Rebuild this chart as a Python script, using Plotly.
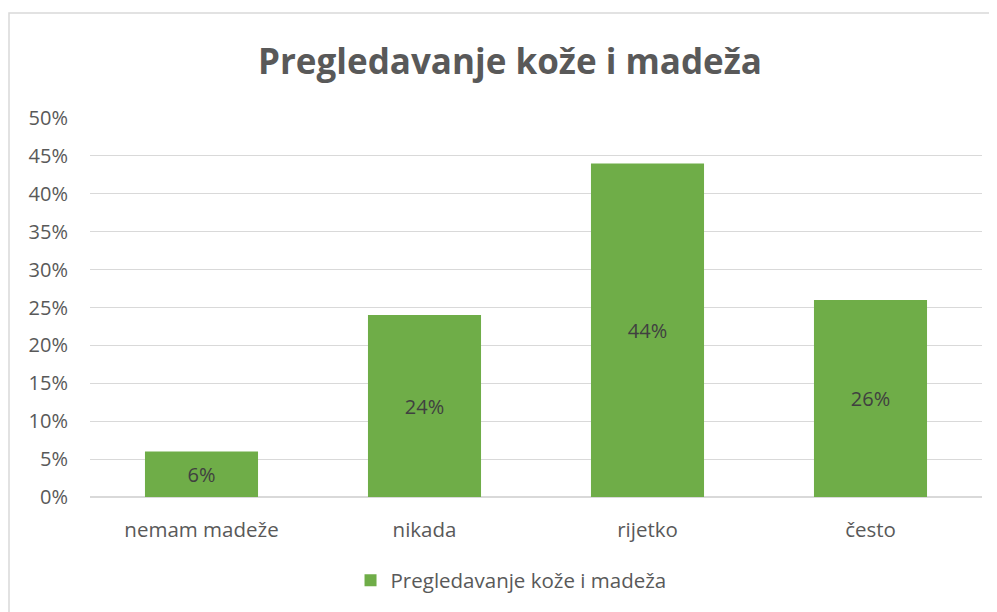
import plotly.graph_objects as go

categories = ["nemam madeže", "nikada", "rijetko", "često"]
values = [0.06, 0.24, 0.44, 0.26]
labels = ["6%", "24%", "44%", "26%"]
series_name = "Pregledavanje kože i madeža"
title_text = "Pregledavanje kože i madeža"
tick_vals = [0, 0.05, 0.10, 0.15, 0.20, 0.25, 0.30, 0.35, 0.40, 0.45, 0.50]
tick_text = ["0%", "5%", "10%", "15%", "20%", "25%", "30%", "35%", "40%", "45%", "50%"]

FONT = "Open Sans"
GRAY = "#595959"

W, H = 989, 604
L, R, T, B = 82, 15, 110, 115
PW = W - L - R
PH = H - T - B

fig = go.Figure()
fig.add_trace(go.Bar(
    x=categories, y=values, name=series_name,
    text=labels, textposition="inside", insidetextanchor="middle",
    textfont=dict(family=FONT, size=20, color="#404040"),
    marker=dict(color="#6fad48", line=dict(width=0)),
    width=0.507,
))

fig.update_layout(
    width=W, height=H,
    margin=dict(l=L, r=R, t=T, b=B),
    paper_bgcolor="white", plot_bgcolor="white",
    title=dict(text="<b>" + title_text + "</b>", x=502/W, xref="container", xanchor="center",
               y=1 - 54/H, yref="container", yanchor="middle",
               font=dict(family=FONT, size=35, color=GRAY)),
    showlegend=True,
    legend=dict(orientation="h", x=0.472, xanchor="center", y=-0.22, yanchor="middle",
                font=dict(family=FONT, size=20.5, color=GRAY)),
    xaxis=dict(showgrid=False, showline=False, ticks="", ticklabelstandoff=18,
               tickfont=dict(family=FONT, size=20.5, color=GRAY)),
    yaxis=dict(range=[0, 0.5], tickvals=tick_vals, ticktext=tick_text,
               showgrid=True, gridcolor="#d9d9d9", gridwidth=1,
               zeroline=True, zerolinecolor="#d9d9d9", zerolinewidth=2,
               showline=False, ticks="", ticklabelstandoff=21,
               tickfont=dict(family=FONT, size=20, color=GRAY)),
    bargap=0.49,
    shapes=[dict(type="rect", xref="paper", yref="paper",
                 x0=(1 - L) / PW, x1=(W - 1 - L) / PW, y0=-0.5, y1=(PH + T - 5) / PH,
                 line=dict(color="#d9d9d9", width=1.5), fillcolor="rgba(0,0,0,0)", layer="below")],
)

fig.write_html("out.html")
